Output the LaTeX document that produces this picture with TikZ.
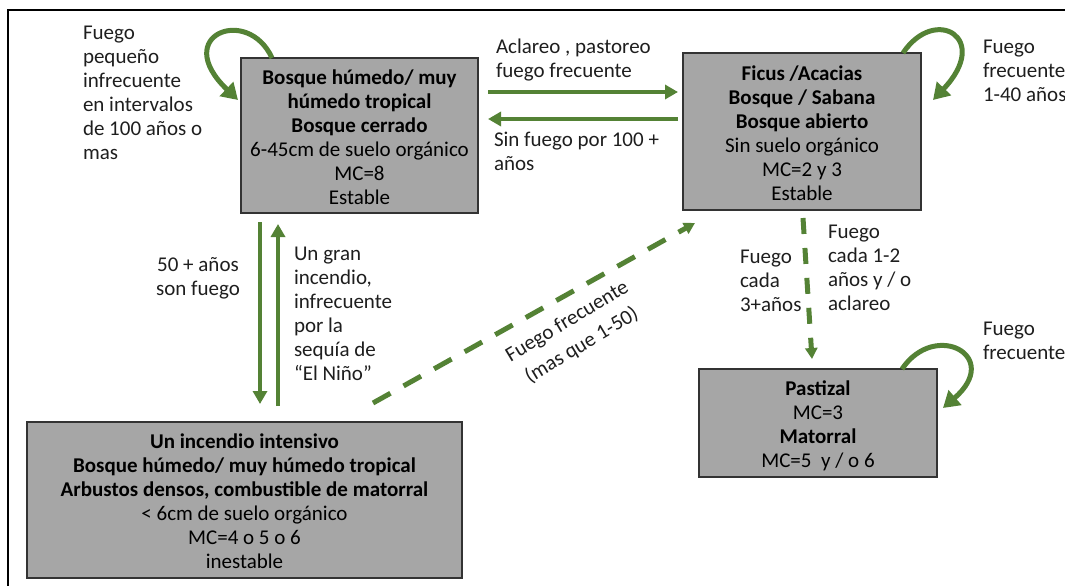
\documentclass[tikz,border=0pt]{standalone}
\usepackage{fontspec}
\setmainfont{Carlito}
\usetikzlibrary{arrows.meta,calc}
\definecolor{firegreen}{RGB}{84,130,53}
\definecolor{statefill}{RGB}{166,166,166}
\definecolor{inktext}{RGB}{30,30,30}
% extra head room on the first line of a box
\newcommand\headroom{\rule{0pt}{25pt}}

\begin{document}
\begin{tikzpicture}[x=1pt,y=-1pt,
  every node/.style={inner sep=0pt, outer sep=0pt},
  txt/.style={font=\fontsize{21}{24}\selectfont,
    execute at begin node=\strut, execute at end node=\strut},
  statebox/.style={txt, draw=black!80, line width=1.3pt, fill=statefill,
    align=center, text=black},
  lbl/.style={txt, align=left, text=inktext, anchor=west},
  clbl/.style={txt, align=center, text=inktext},
  trans/.style={draw=firegreen, line width=4pt, -{Triangle[length=13pt,width=14pt]}},
  selfloop/.style={draw=firegreen, line width=5pt, -{Triangle[length=16pt,width=19pt]}},
  chance/.style={draw=firegreen, line width=5pt, -{Triangle[length=11pt,width=12pt]}},
]
\useasboundingbox (0,0) rectangle (1065,586);

% page frame
\draw[line width=2pt] (8,600) -- (8,10) -- (1070,10);

% succession states
\node[statebox, minimum width=237pt, minimum height=155pt] (b1) at (359.5,135.5)
  {\headroom\textbf{Bosque húmedo/ muy}\\ \textbf{húmedo tropical}\\ \textbf{Bosque cerrado}\\
   6-45cm de suelo orgánico\\ MC=8\\ Estable};
\node[statebox, minimum width=238pt, minimum height=157pt] (b2) at (802,131.5)
  {\headroom\textbf{Ficus /Acacias}\\ \textbf{Bosque / Sabana}\\ \textbf{Bosque abierto}\\
   Sin suelo orgánico\\ MC=2 y 3\\ Estable};
\node[statebox, minimum width=435pt, minimum height=156pt] (b3) at (244.5,500)
  {\headroom\textbf{Un incendio intensivo}\\ \textbf{Bosque húmedo/ muy húmedo tropical}\\
   \textbf{Arbustos densos, combustible de matorral}\\
   < 6cm de suelo orgánico\\ MC=4 o 5 o 6\\ inestable};
\node[statebox, minimum width=238pt, minimum height=108pt] (b4) at (818,423)
  {\headroom\textbf{Pastizal}\\ MC=3\\ \textbf{Matorral}\\ MC=5\ \ y / o 6};

% transitions
\draw[trans] ($(b1.east)+(10,-43.5)$) -- ($(b2.west)+(-5,-39.5)$);
\draw[trans] ($(b2.west)+(-5,-12.5)$) -- ($(b1.east)+(10,-16.5)$);
\draw[trans] ($(b1.south west)+(19,9)$) -- ($(b3.north west)+(233,-18)$);
\draw[trans] ($(b3.north west)+(251,-16)$) -- ($(b1.south west)+(37,11)$);
\draw[chance, dash pattern=on 20pt off 15pt]
  ($(b3.north west)+(346,-19)$) -- ($(b2.south west)+(12,13)$);
\draw[chance, dash pattern=on 16pt off 14pt]
  ($(b2.south)+(1,8)$) -- ($(b4.north)+(-6,-10)$);

% recurring fire loops
\draw[selfloop] ($(b1.north west)+(31,0)$) .. controls (248,5) and (170,35) .. ($(b1.west)+(-3,-35.5)$);
\draw[selfloop] ($(b2.north west)+(220,0)$) .. controls (935,5) and (992,38) .. ($(b2.north east)+(12,47)$);
\draw[selfloop] ($(b4.north west)+(203,0)$) .. controls (935,320) and (1003,356) .. ($(b4.north east)+(6,39)$);

% labels
\node[lbl] (l1) at (83,96) {Fuego\\pequeño\\infrecuente\\en intervalos\\de 100 años o\\mas};
\node[lbl] (l2) at (496,62) {Aclareo , pastoreo\\fuego frecuente};
\node[lbl] (l3) at (494,155) {Sin fuego por 100 +\\años};
\node[lbl] (l4) at (983,74) {Fuego\\frecuente\\1-40 años};
\node[clbl] (l5) at (198,280.5) {50 + años\\son fuego};
\node[lbl] (l6) at (294,317.5) {Un gran\\incendio,\\infrecuente\\por la\\sequía de\\“El Niño”};
\node[clbl, rotate=31, font=\fontsize{21}{28}\selectfont] (l7) at (576,336) {Fuego frecuente\\(mas que 1-50)};
\node[lbl] (l8) at (740,284.5) {Fuego\\cada\\3+años};
\node[lbl] (l9) at (828,271) {Fuego\\cada 1-2\\años y / o\\aclareo};
\node[lbl] (l10) at (983,344) {Fuego\\frecuente};
\end{tikzpicture}
\end{document}
